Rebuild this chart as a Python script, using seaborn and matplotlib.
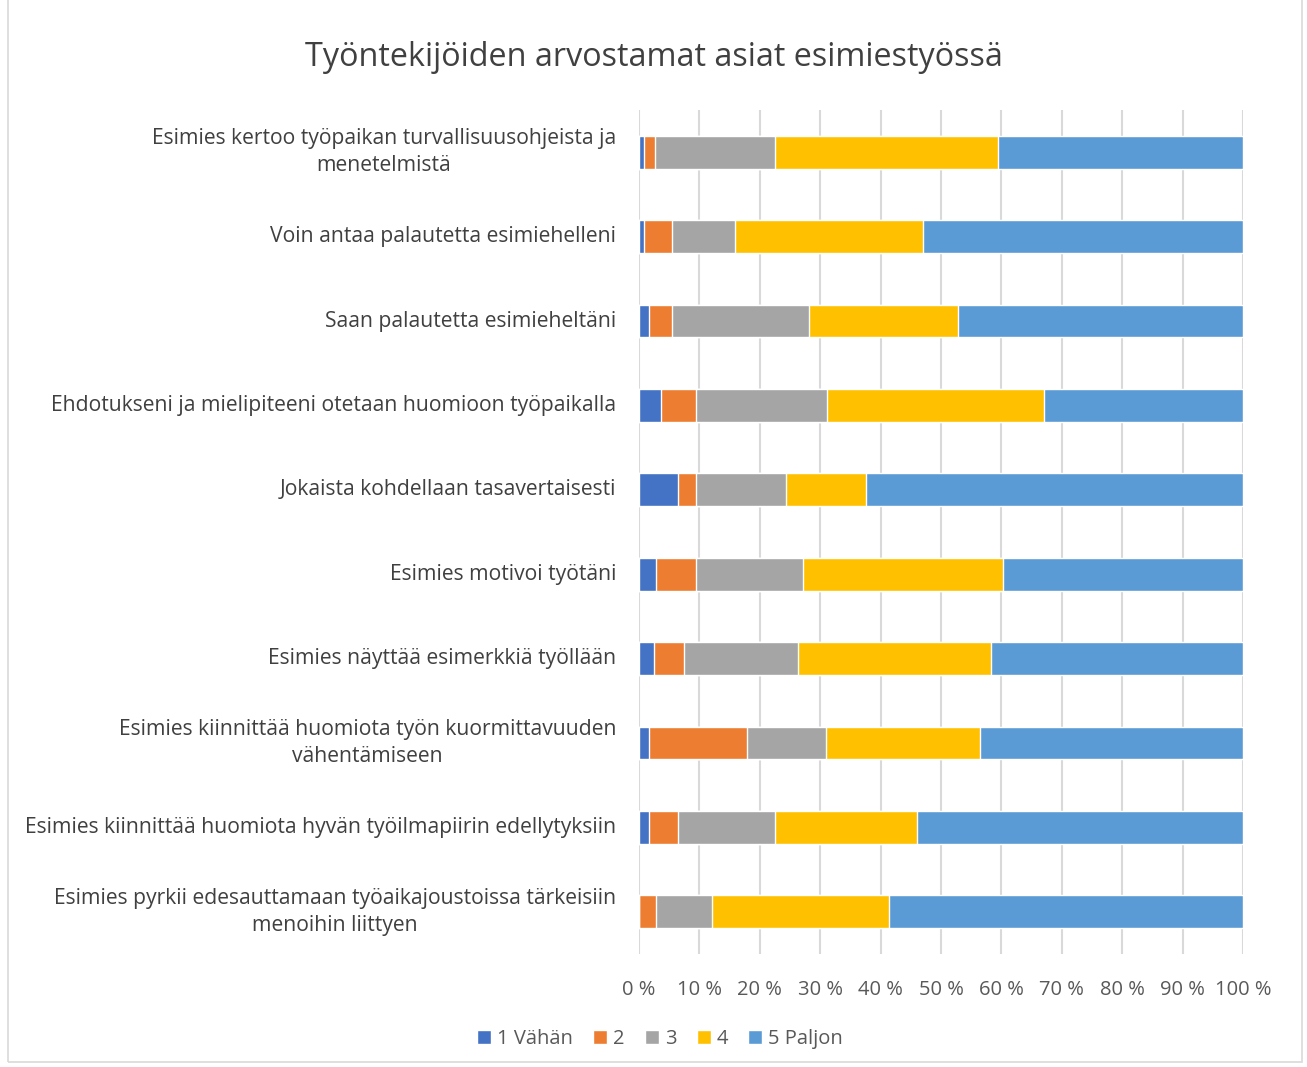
import numpy as np
import pandas as pd
import matplotlib
matplotlib.use("Agg")
import matplotlib.pyplot as plt
import seaborn as sns
from matplotlib.patches import Rectangle

categories = [
    "Esimies kertoo työpaikan turvallisuusohjeista ja\nmenetelmistä",
    "Voin antaa palautetta esimiehelleni",
    "Saan palautetta esimieheltäni",
    "Ehdotukseni ja mielipiteeni otetaan huomioon työpaikalla",
    "Jokaista kohdellaan tasavertaisesti",
    "Esimies motivoi työtäni",
    "Esimies näyttää esimerkkiä työllään",
    "Esimies kiinnittää huomiota työn kuormittavuuden\nvähentämiseen",
    "Esimies kiinnittää huomiota hyvän työilmapiirin edellytyksiin",
    "Esimies pyrkii edesauttamaan työaikajoustoissa tärkeisiin\nmenoihin liittyen",
]
series_names = ["1 Vähän", "2", "3", "4", "5 Paljon"]
v1 = [0.8, 0.8, 1.7, 3.6, 6.4, 2.8, 2.5, 1.7, 1.7, 0.0]
v2 = [1.8, 4.7, 3.8, 5.8, 3.0, 6.6, 4.9, 16.1, 4.7, 2.8]
v3 = [19.9, 10.4, 22.7, 21.8, 15.0, 17.8, 18.9, 13.2, 16.1, 9.3]
v4 = [36.9, 31.2, 24.6, 35.9, 13.2, 33.1, 32.0, 25.5, 23.6, 29.3]
v5 = [40.6, 52.9, 47.2, 32.9, 62.4, 39.7, 41.7, 43.5, 53.9, 58.6]
colors = ["#4472C4", "#ED7D31", "#A5A5A5", "#FFC000", "#5B9BD5"]
xticks = [0, 10, 20, 30, 40, 50, 60, 70, 80, 90, 100]

sns.set_theme(style="white")
plt.rcParams["font.family"] = ["Open Sans", "DejaVu Sans"]

vals = np.array([v1, v2, v3, v4, v5], dtype=float)
vals = vals / vals.sum(axis=0) * 100
cum = np.cumsum(vals, axis=0)

fig = plt.figure(figsize=(13.07, 10.67), dpi=100)
ax = fig.add_axes([639 / 1307, 1 - 954 / 1067, (1243 - 639) / 1307, (954 - 110) / 1067])

for i in range(4, -1, -1):
    df = pd.DataFrame({"cat": categories, "val": cum[i]})
    sns.barplot(data=df, y="cat", x="val", color=colors[i], ax=ax,
                width=0.39, orient="h", saturation=1, label=series_names[i],
                zorder=3)

ax.set_xlim(0, 100)
ax.set_ylim(len(categories) - 0.5, -0.5)
ax.set_xticks(xticks)
ax.set_xticklabels([f"{t} %" for t in xticks], fontsize=14.5, color="#595959")
ax.tick_params(axis="x", length=0, pad=19)
ax.tick_params(axis="y", length=0, pad=16.5)
for lab in ax.get_yticklabels():
    lab.set_fontsize(15.2)
    lab.set_color("#404040")
    lab.set_multialignment("center")
    lab.set_linespacing(1.4)
    lab.set_verticalalignment("center")
ax.set_xlabel("")
ax.set_ylabel("")
ax.grid(axis="x", color="#D9D9D9", linewidth=1.5, zorder=0)
ax.grid(axis="y", visible=False)
for s in ax.spines.values():
    s.set_visible(False)

fig.text(0.5, 1 - 57 / 1067, "Työntekijöiden arvostamat asiat esimiestyössä",
         ha="center", va="center", fontsize=23.3, color="#404040")

handles, labels = ax.get_legend_handles_labels()
order = [labels.index(n) for n in series_names]
ax.legend([handles[k] for k in order], [labels[k] for k in order],
          loc="center", bbox_to_anchor=(660 / 1307, 1 - 1039 / 1067),
          bbox_transform=fig.transFigure, ncol=5, frameon=False,
          fontsize=14.5, handlelength=0.7, handleheight=0.7,
          handletextpad=0.3, columnspacing=1.0, labelcolor="#595959")

fig.patches.append(Rectangle((8 / 1307, 1 - 1062 / 1067), (1302 - 8) / 1307, 1062 / 1067 + 0.01,
                             transform=fig.transFigure, fill=False,
                             edgecolor="#D9D9D9", linewidth=1.2))

fig.savefig("out.png", dpi=100, facecolor="white")
